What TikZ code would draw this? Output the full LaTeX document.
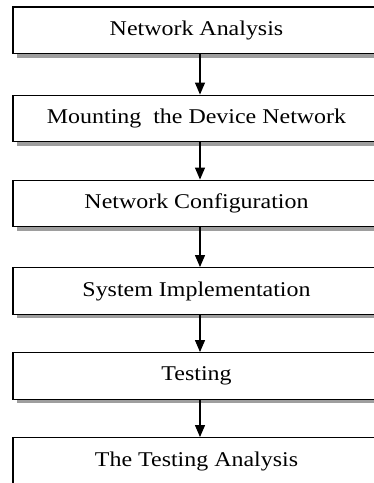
\documentclass[tikz,border=0pt]{standalone}
\usepackage{fontspec}
\setmainfont{Liberation Serif}[FakeStretch=1.14]
\usetikzlibrary{arrows.meta}
\begin{document}
\begin{tikzpicture}[x=1pt,y=-1pt,
  stepbox/.style={draw=black, line width=1.4pt, fill=white, minimum width=367pt, minimum height=46.5pt, inner sep=0pt,
    font=\fontsize{21}{24}\selectfont,
    preaction={fill=black!38, transform canvas={xshift=4pt, yshift=-4pt}}},
  flow/.style={line width=1.2pt, -{Triangle[length=12pt,width=10pt]}}]
\useasboundingbox (0,0) rectangle (374,483);
\clip (0,0) rectangle (374,483);
\node[stepbox] (n1) at (196.5,30.4) {Network Analysis};
\node[stepbox] (n2) at (196.5,118.5) {Mounting\ \ the Device Network};
\node[stepbox] (n3) at (196.5,203.5) {Network Configuration};
\node[stepbox] (n4) at (196.5,291) {System Implementation};
\node[stepbox] (n5) at (196.5,376) {Testing};
\node[stepbox] (n6) at (196.5,461) {The Testing Analysis};
\foreach \a/\b in {n1/n2,n2/n3,n3/n4,n4/n5,n5/n6}
  \draw[flow] ([xshift=3.5pt]\a.south) -- ([xshift=3.5pt]\b.north);
\end{tikzpicture}
\end{document}
